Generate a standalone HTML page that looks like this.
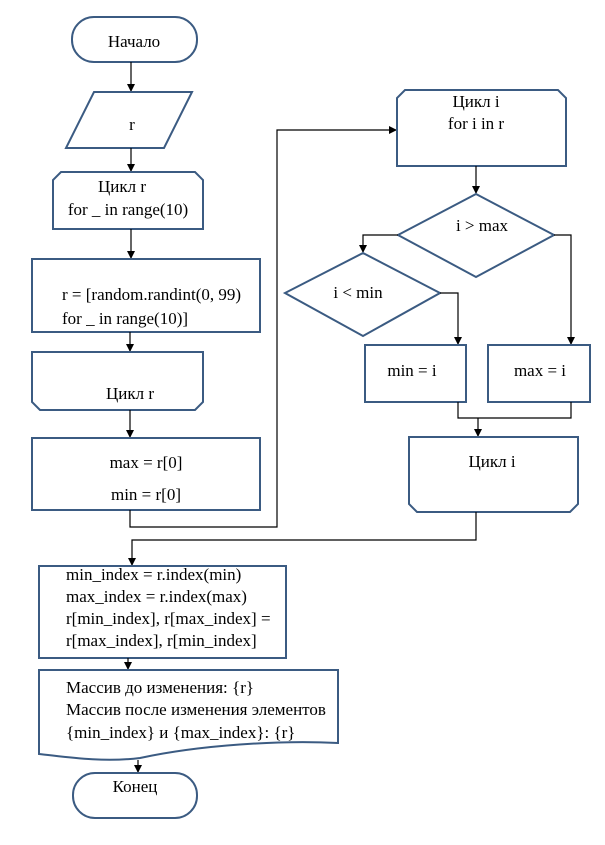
<!DOCTYPE html>
<html><head><meta charset="utf-8"><style>
html,body{margin:0;padding:0;background:#fff;}
svg{display:block;}
text{font-family:"Liberation Serif","Noto Serif CJK SC",serif;font-size:17px;fill:#000;}
.s{fill:#fff;stroke:#3b5b82;stroke-width:2;}
.l{fill:none;stroke:#000;stroke-width:1.2;}
</style></head><body>
<svg width="605" height="845" viewBox="0 0 605 845" xmlns="http://www.w3.org/2000/svg">
<defs><marker id="a" markerWidth="8" markerHeight="8" refX="7" refY="4" orient="auto" markerUnits="userSpaceOnUse"><path d="M0,0 L8,4 L0,8 z" fill="#000"/></marker></defs>

<rect class="s" x="72" y="17" width="125" height="45" rx="22"/>
<text x="134" y="47" text-anchor="middle">Начало</text>
<line class="l" x1="131" y1="62" x2="131" y2="91" marker-end="url(#a)"/>

<polygon class="s" points="94,92 192,92 164,148 66,148"/>
<text x="132" y="130" text-anchor="middle">r</text>
<line class="l" x1="131" y1="148" x2="131" y2="171" marker-end="url(#a)"/>

<polygon class="s" points="61,172 195,172 203,180 203,229 53,229 53,180"/>
<text x="122" y="192" text-anchor="middle">Цикл r</text>
<text x="128" y="215" text-anchor="middle">for _ in range(10)</text>
<line class="l" x1="131" y1="229" x2="131" y2="258" marker-end="url(#a)"/>

<rect class="s" x="32" y="259" width="228" height="73"/>
<text x="62" y="300">r = [random.randint(0, 99)</text>
<text x="62" y="324">for _ in range(10)]</text>
<line class="l" x1="130" y1="332" x2="130" y2="351" marker-end="url(#a)"/>

<polygon class="s" points="32,352 203,352 203,402 195,410 40,410 32,402"/>
<text x="130" y="399" text-anchor="middle">Цикл r</text>
<line class="l" x1="130" y1="410" x2="130" y2="437" marker-end="url(#a)"/>

<rect class="s" x="32" y="438" width="228" height="72"/>
<text x="146" y="468" text-anchor="middle">max = r[0]</text>
<text x="146" y="500" text-anchor="middle">min = r[0]</text>
<polyline class="l" points="130,510 130,527 277,527 277,130 396,130" marker-end="url(#a)"/>

<polygon class="s" points="405,90 558,90 566,98 566,166 397,166 397,98"/>
<text x="476" y="107" text-anchor="middle">Цикл i</text>
<text x="476" y="129" text-anchor="middle">for i in r</text>
<line class="l" x1="476" y1="166" x2="476" y2="193" marker-end="url(#a)"/>

<polygon class="s" points="476,194 554,235 476,277 398,235"/>
<text x="482" y="231" text-anchor="middle">i &gt; max</text>
<polyline class="l" points="398,235 363,235 363,252" marker-end="url(#a)"/>
<polyline class="l" points="554,235 571,235 571,344" marker-end="url(#a)"/>

<polygon class="s" points="363,253 440,293 363,336 285,293"/>
<text x="358" y="298" text-anchor="middle">i &lt; min</text>
<polyline class="l" points="440,293 458,293 458,344" marker-end="url(#a)"/>

<rect class="s" x="365" y="345" width="101" height="57"/>
<text x="412" y="376" text-anchor="middle">min = i</text>
<rect class="s" x="488" y="345" width="102" height="57"/>
<text x="540" y="376" text-anchor="middle">max = i</text>
<polyline class="l" points="458,402 458,418 571,418 571,402"/>
<line class="l" x1="478" y1="418" x2="478" y2="436" marker-end="url(#a)"/>

<polygon class="s" points="409,437 578,437 578,504 570,512 417,512 409,504"/>
<text x="492" y="467" text-anchor="middle">Цикл i</text>
<polyline class="l" points="476,512 476,540 132,540 132,565" marker-end="url(#a)"/>

<rect class="s" x="39" y="566" width="247" height="92"/>
<text x="66" y="580">min_index = r.index(min)</text>
<text x="66" y="602">max_index = r.index(max)</text>
<text x="66" y="624">r[min_index], r[max_index] =</text>
<text x="66" y="646">r[max_index], r[min_index]</text>
<line class="l" x1="128" y1="658" x2="128" y2="669" marker-end="url(#a)"/>

<path class="s" d="M39,670 L338,670 L338,743 C280,740 200,745 140,758 C100,763 60,756 39,754 Z"/>
<text x="66" y="693">Массив до изменения: {r}</text>
<text x="66" y="715">Массив после изменения элементов</text>
<text x="66" y="738">{min_index} и {max_index}: {r}</text>
<line class="l" x1="138" y1="760" x2="138" y2="772" marker-end="url(#a)"/>

<rect class="s" x="73" y="773" width="124" height="45" rx="22"/>
<text x="135" y="792" text-anchor="middle">Конец</text>
</svg>
</body></html>
